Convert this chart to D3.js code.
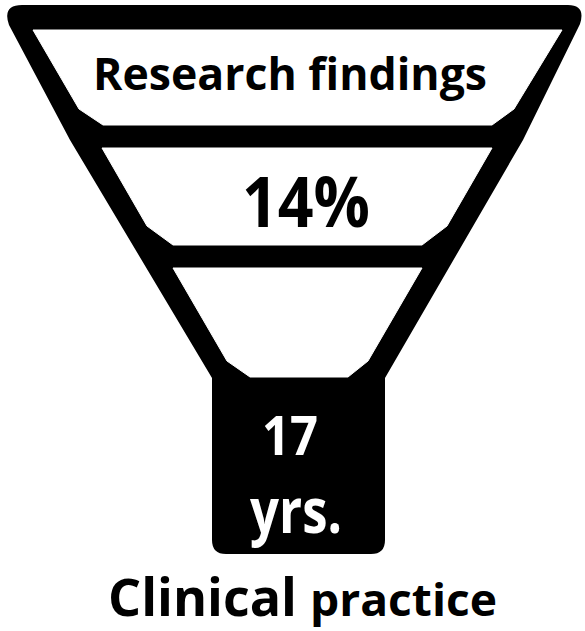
<!DOCTYPE html>
<html>
<head>
<meta charset="utf-8">
<script src="https://cdn.jsdelivr.net/npm/d3@7/dist/d3.min.js"></script>
<style>
  html, body { margin: 0; padding: 0; background: #fff; }
  svg { display: block; }
  text { font-family: "Open Sans", "DejaVu Sans", sans-serif; font-weight: 700; }
</style>
</head>
<body>
<svg id="chart" width="585" height="631"></svg>
<script>
// ---- data ----
const stageLabels = ["Research findings", "14%", ""];
const stemLabels = ["17", "yrs."];
const footerLabels = ["Clinical", "practice"];

// ---- layout ----
const svg = d3.select("#chart");
const line = d3.line();

// Outer black funnel silhouette
const outer = d3.path();
outer.moveTo(22, 5);
outer.lineTo(568, 5);
outer.quadraticCurveTo(586, 5, 580, 24);
outer.lineTo(523, 140);
outer.lineTo(385, 378);
outer.lineTo(385, 540);
outer.quadraticCurveTo(385, 554, 371, 554);
outer.lineTo(226, 554);
outer.quadraticCurveTo(212, 554, 212, 540);
outer.lineTo(212, 378);
outer.lineTo(70, 140);
outer.lineTo(9, 25);
outer.quadraticCurveTo(2, 5, 22, 5);
outer.closePath();

svg.append("path").attr("d", outer.toString()).attr("fill", "#000");

// Inner white compartments
const bands = [
  [[33,30],[562,30],[514,109],[492,125],[103,125],[79,109]],
  [[102,148],[492,148],[447,226],[422,245],[173,245],[147,226]],
  [[173,268],[422,268],[368,361],[348,377],[250,377],[227,361]]
];
svg.selectAll("path.band").data(bands).join("path")
  .attr("class", "band")
  .attr("d", d => line(d) + "Z")
  .attr("fill", "#fff")
  .attr("stroke", "#fff")
  .attr("stroke-width", 1)
  .attr("stroke-linejoin", "round");

// Stage labels
const stageSpecs = [
  { x: 93, y: 90, size: 45, len: 394 },
  { x: 242, y: 227, size: 69, len: 128 },
  { x: 0, y: 0, size: 10, len: 0 }
];
stageLabels.forEach((t, i) => {
  if (!t) return;
  const s = stageSpecs[i];
  svg.append("text")
    .attr("x", s.x).attr("y", s.y)
    .attr("font-size", s.size)
    .attr("textLength", s.len)
    .attr("lengthAdjust", "spacingAndGlyphs")
    .attr("fill", "#000")
    .text(t);
});

// Stem labels (white on black)
const stemSpecs = [
  { x: 262, y: 455, size: 53, len: 56 },
  { x: 250, y: 533, size: 63, len: 92 }
];
stemLabels.forEach((t, i) => {
  const s = stemSpecs[i];
  svg.append("text")
    .attr("x", s.x).attr("y", s.y)
    .attr("font-size", s.size)
    .attr("textLength", s.len)
    .attr("lengthAdjust", "spacingAndGlyphs")
    .attr("fill", "#fff")
    .text(t);
});

// Footer
const footerSpecs = [
  { x: 108, y: 616, size: 52, len: 189 },
  { x: 310, y: 616, size: 44, len: 187 }
];
footerLabels.forEach((t, i) => {
  const s = footerSpecs[i];
  svg.append("text")
    .attr("x", s.x).attr("y", s.y)
    .attr("font-size", s.size)
    .attr("textLength", s.len)
    .attr("lengthAdjust", "spacingAndGlyphs")
    .attr("fill", "#000")
    .text(t);
});
</script>
</body>
</html>
